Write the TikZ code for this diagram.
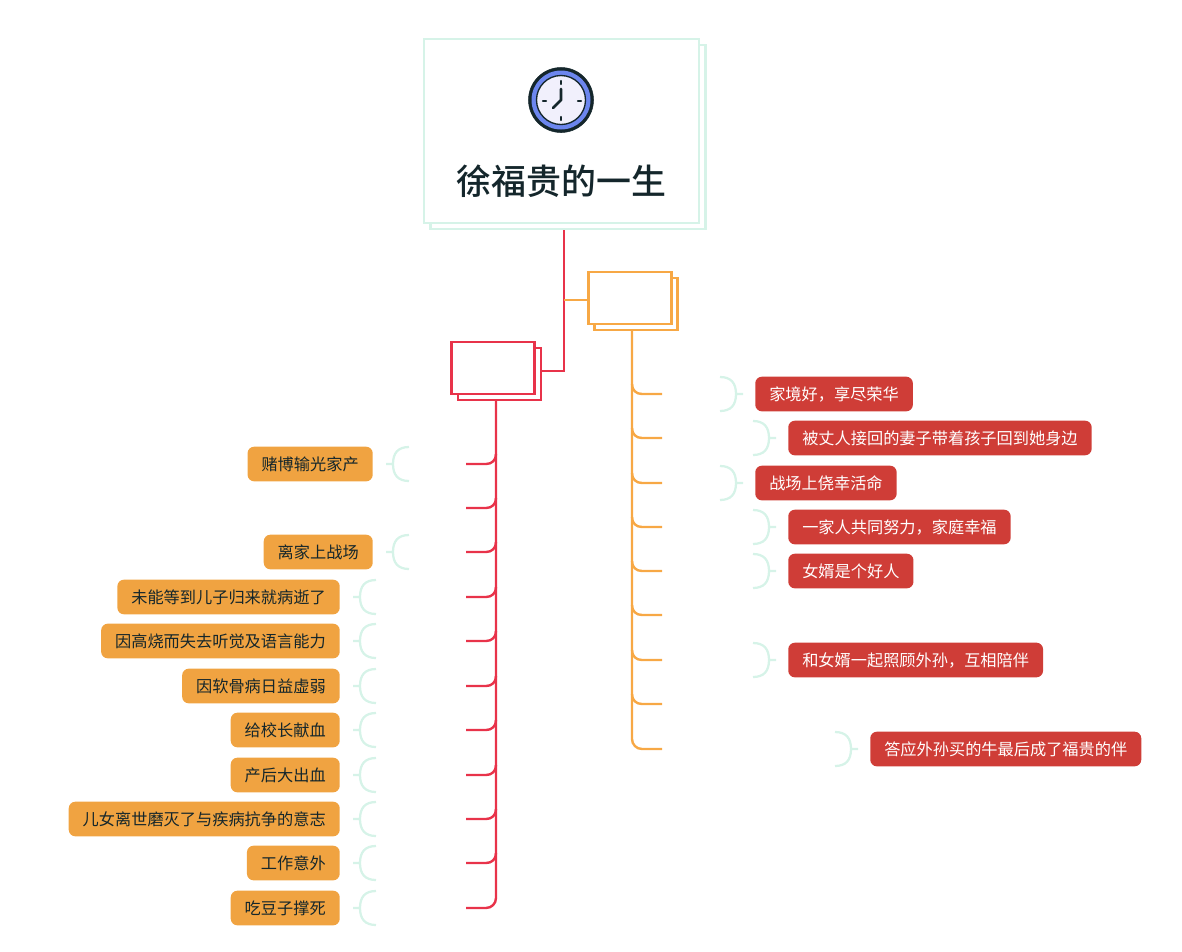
\documentclass[tikz,border=0pt]{standalone}
\usepackage{fontspec}
\newfontfamily\cjk{Noto Sans CJK SC}
\newfontfamily\cjktitle{Noto Sans CJK SC Medium}

\definecolor{mint}{HTML}{D6F3E8}
\definecolor{redline}{HTML}{E8334A}
\definecolor{orangeline}{HTML}{F7A845}
\definecolor{redfill}{HTML}{CF3D37}
\definecolor{orangefill}{HTML}{F0A341}
\definecolor{inkdark}{HTML}{14262B}
\definecolor{clockblue}{HTML}{6C86EE}
\definecolor{clockface}{HTML}{F1F0FC}

\tikzset{
    rootbox/.style={draw=mint, fill=white, line width=1.8pt, minimum width=206pt, minimum height=138pt},
    redbox/.style={draw=redline, fill=white, line width=1.8pt, minimum width=62pt, minimum height=39pt},
    orangebox/.style={draw=orangeline, fill=white, line width=1.8pt, minimum width=62pt, minimum height=39pt},
    redpill/.style={fill=redfill, text=white, rounded corners=5pt, inner xsep=10.5pt, inner ysep=0pt, minimum height=26pt, font=\cjk\fontsize{12.15}{14}\selectfont},
    orangepill/.style={fill=orangefill, text=inkdark, rounded corners=5pt, inner xsep=10.5pt, inner ysep=0pt, minimum height=26pt, font=\cjk\fontsize{12.15}{14}\selectfont},
    redwire/.style={draw=redline, line width=1.8pt},
    orangewire/.style={draw=orangeline, line width=1.8pt},
    bracket/.style={draw=mint, line width=1.7pt},
    clocktick/.style={inkdark, line width=1.7pt, line cap=round},
}

% branches leave the trunk with a small curve
\newcommand{\redbranch}[1]{\draw[redwire] (#1) -- ++(20,0) .. controls +(6,0) and +(0,6) .. ++(10,-10);}
\newcommand{\orangebranch}[1]{\draw[orangewire] (#1) -- ++(-20,0) .. controls +(-6,0) and +(0,6) .. ++(-10,-10);}
\newcommand{\rightbrace}[1]{\draw[bracket] (#1.west) ++(-12,0) -- ++(-7,0) ++(-16,-17) .. controls +(11,0) and +(0,-11) .. ++(16,17) .. controls +(0,11) and +(11,0) .. ++(-16,17);}
\newcommand{\leftbrace}[1]{\draw[bracket] (#1.east) ++(13,0) -- ++(7,0) ++(16,-17) .. controls +(-11,0) and +(0,-11) .. ++(-16,17) .. controls +(0,11) and +(-11,0) .. ++(16,17);}

\begin{document}
\begin{tikzpicture}[x=0.75pt, y=-0.75pt]
    \useasboundingbox (0, 0) rectangle (1182, 951);

    % top box
    \node[rootbox] (rootback) at (568, 137) { };
    \node[rootbox] (root) at (561.5, 131) { };
    \node[text=inkdark, font=\cjktitle\fontsize{26.2}{30}\selectfont] (title) at (561.5, 181) {徐福贵的一生};

    % clock
    \draw[draw=inkdark, fill=inkdark] (561, 100) circle (32.5);
    \draw[draw=none, fill=clockblue] (561, 100) circle (29.5);
    \draw[draw=inkdark, line width=1pt, fill=clockface] (561, 100) circle (24.5);
    \draw[clocktick] (561, 81) -- (561, 84);
    \draw[clocktick] (561, 117) -- (561, 120);
    \draw[clocktick] (543, 101) -- (546, 101);
    \draw[clocktick] (578, 101) -- (581, 101);
    \draw[inkdark, line width=2.1pt, line cap=round, line join=round] (561, 89) -- (561, 100) -- (553, 108);

    % the two boxes
    \node[redbox] (redback) at (499.5, 374) { };
    \node[redbox] (redfront) at (493, 368) { };
    \node[orangebox] (orangeback) at (636, 304) { };
    \node[orangebox] (orangefront) at (630, 298) { };

    \coordinate (rootelbow) at (564, 371);
    \coordinate (rootjoint) at (564, 300);
    \coordinate (redfoot) at (496, 908);
    \coordinate (orangefoot) at (632, 749);

    \draw[redwire] (rootelbow |- rootback.south) -- (rootelbow) -- (redback.east |- rootelbow);
    \draw[orangewire] (rootjoint) -- (orangefront.west |- rootjoint);

    % right side
    \coordinate (ob1) at (662, 394);
    \coordinate (ob2) at (662, 438);
    \coordinate (ob3) at (662, 483);
    \coordinate (ob4) at (662, 527);
    \coordinate (ob5) at (662, 571);
    \coordinate (ob6) at (662, 615);
    \coordinate (ob7) at (662, 660);
    \coordinate (ob8) at (662, 704);
    \coordinate (ob9) at (662, 749);

    \draw[orangewire, rounded corners=7.5pt] (orangefoot |- orangeback.south) -- (orangefoot) -- (ob9);
    \orangebranch{ob1}
    \orangebranch{ob2}
    \orangebranch{ob3}
    \orangebranch{ob4}
    \orangebranch{ob5}
    \orangebranch{ob6}
    \orangebranch{ob7}
    \orangebranch{ob8}

    \node[redpill, anchor=west] (wealth) at (755, 394) {家境好，享尽荣华};
    \node[redpill, anchor=west] (wife) at (788, 438) {被丈人接回的妻子带着孩子回到她身边};
    \node[redpill, anchor=west] (battle) at (755, 483) {战场上侥幸活命};
    \node[redpill, anchor=west] (family) at (788, 527) {一家人共同努力，家庭幸福};
    \node[redpill, anchor=west] (soninlaw) at (788, 571) {女婿是个好人};
    \node[redpill, anchor=west] (grandson) at (788, 660) {和女婿一起照顾外孙，互相陪伴};
    \node[redpill, anchor=west] (ox) at (870, 749) {答应外孙买的牛最后成了福贵的伴};

    \rightbrace{wealth}
    \rightbrace{wife}
    \rightbrace{battle}
    \rightbrace{family}
    \rightbrace{soninlaw}
    \rightbrace{grandson}
    \rightbrace{ox}

    % left side
    \coordinate (rb1) at (466, 464);
    \coordinate (rb2) at (466, 508);
    \coordinate (rb3) at (466, 552);
    \coordinate (rb4) at (466, 597);
    \coordinate (rb5) at (466, 641);
    \coordinate (rb6) at (466, 686);
    \coordinate (rb7) at (466, 730);
    \coordinate (rb8) at (466, 775);
    \coordinate (rb9) at (466, 819);
    \coordinate (rb10) at (466, 863);
    \coordinate (rb11) at (466, 908);

    \draw[redwire, rounded corners=7.5pt] (redfoot |- redback.south) -- (redfoot) -- (rb11);
    \redbranch{rb1}
    \redbranch{rb2}
    \redbranch{rb3}
    \redbranch{rb4}
    \redbranch{rb5}
    \redbranch{rb6}
    \redbranch{rb7}
    \redbranch{rb8}
    \redbranch{rb9}
    \redbranch{rb10}

    \node[orangepill, anchor=east] (gamble) at (373, 464) {赌博输光家产};
    \node[orangepill, anchor=east] (leave) at (373, 552) {离家上战场};
    \node[orangepill, anchor=east] (mother) at (340, 597) {未能等到儿子归来就病逝了};
    \node[orangepill, anchor=east] (fever) at (340, 641) {因高烧而失去听觉及语言能力};
    \node[orangepill, anchor=east] (bones) at (340, 686) {因软骨病日益虚弱};
    \node[orangepill, anchor=east] (blood) at (340, 730) {给校长献血};
    \node[orangepill, anchor=east] (birth) at (340, 775) {产后大出血};
    \node[orangepill, anchor=east] (will) at (340, 819) {儿女离世磨灭了与疾病抗争的意志};
    \node[orangepill, anchor=east] (accident) at (340, 863) {工作意外};
    \node[orangepill, anchor=east] (beans) at (340, 908) {吃豆子撑死};

    \leftbrace{gamble}
    \leftbrace{leave}
    \leftbrace{mother}
    \leftbrace{fever}
    \leftbrace{bones}
    \leftbrace{blood}
    \leftbrace{birth}
    \leftbrace{will}
    \leftbrace{accident}
    \leftbrace{beans}
\end{tikzpicture}
\end{document}
